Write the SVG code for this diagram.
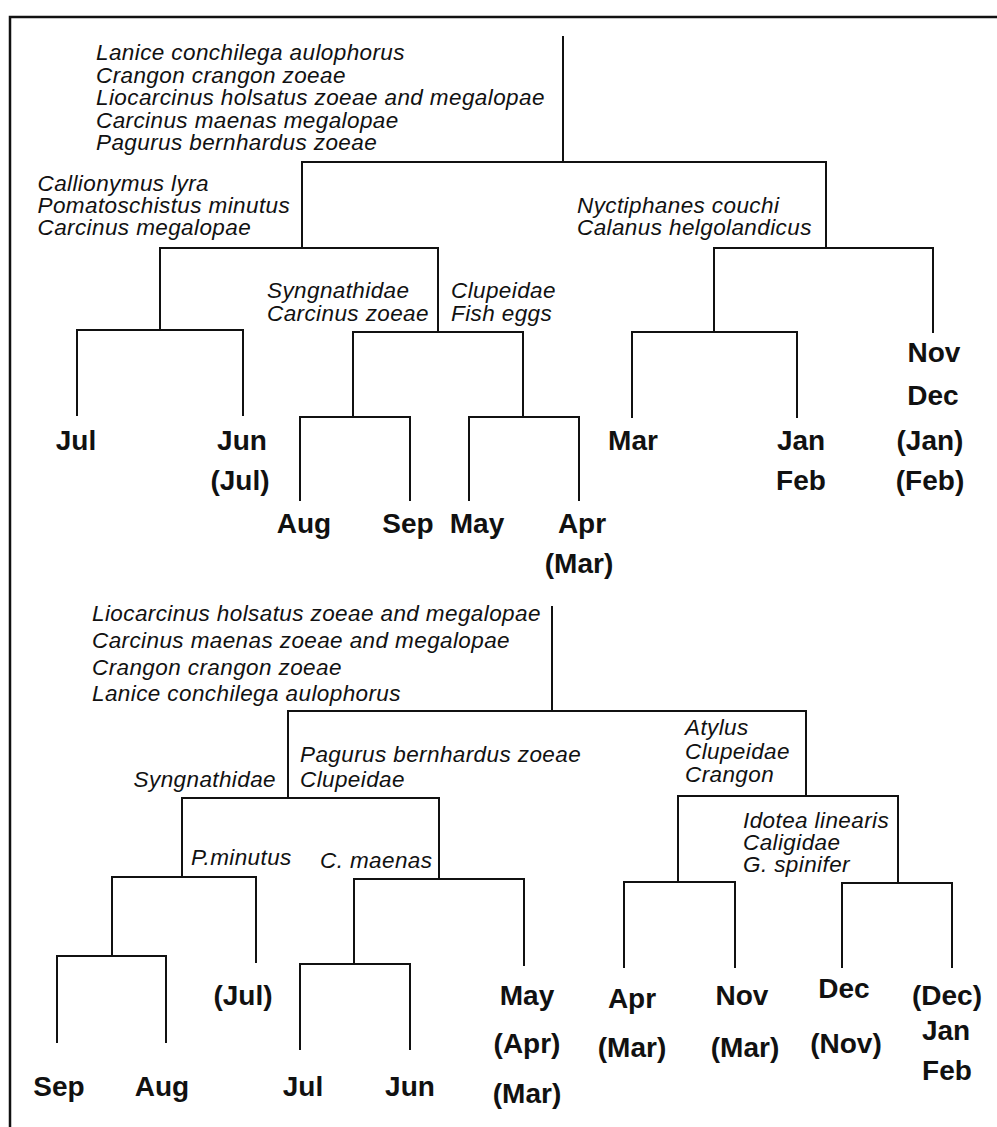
<svg xmlns="http://www.w3.org/2000/svg" width="997" height="1127" viewBox="0 0 997 1127">
  <style>
    .sp { font-family: "Liberation Sans", Arial, sans-serif; font-style: italic; font-size: 22.5px; letter-spacing: 0.4px; fill: #111; }
    .mo { font-family: "Liberation Sans", Arial, sans-serif; font-weight: bold; font-size: 28px; fill: #111; text-anchor: middle; }
    .ln { fill: none; stroke: #111; stroke-width: 2; stroke-linecap: square; }
    .frame { fill: none; stroke: #111; stroke-width: 2.5; }
  </style>
  <rect width="997" height="1127" fill="#fff"/>

  <!-- frame (top and left edges) -->
  <path class="frame" d="M10,1127 V17 H997"/>

  <!-- dendrogram links -->
  <g id="connectors" class="ln">
    <!-- upper tree -->
    <path d="M563,37 V162"/>
    <path d="M302,248 V162 H826 V248"/>
    <path d="M160,330 V248 H438 V332"/>
    <path d="M77,415 V330 H243 V415"/>
    <path d="M353,417 V332 H523 V417"/>
    <path d="M300,500 V417 H410 V500"/>
    <path d="M469,500 V417 H579 V500"/>
    <path d="M714,332 V248 H933 V332"/>
    <path d="M632,417 V332 H797 V417"/>
    <!-- lower tree -->
    <path d="M552,607 V711"/>
    <path d="M288,798 V711 H806 V796"/>
    <path d="M182,877 V798 H439 V879"/>
    <path d="M112,956 V877 H256 V962"/>
    <path d="M57,1042 V956 H166 V1042"/>
    <path d="M354,964 V879 H524 V965"/>
    <path d="M300,1049 V964 H410 V1049"/>
    <path d="M678,882 V796 H898 V883"/>
    <path d="M624,967 V882 H735 V967"/>
    <path d="M842,967 V883 H952 V967"/>
  </g>

  <!-- upper tree: species splits -->
  <g id="u-root-species">
    <text class="sp" x="96" y="60">Lanice conchilega aulophorus</text>
    <text class="sp" x="96" y="82.5">Crangon crangon zoeae</text>
    <text class="sp" x="96" y="105">Liocarcinus holsatus zoeae and megalopae</text>
    <text class="sp" x="96" y="127.5">Carcinus maenas megalopae</text>
    <text class="sp" x="96" y="150">Pagurus bernhardus zoeae</text>
  </g>
  <g id="u-left-species">
    <text class="sp" x="37.5" y="191">Callionymus lyra</text>
    <text class="sp" x="37.5" y="213">Pomatoschistus minutus</text>
    <text class="sp" x="37.5" y="235">Carcinus megalopae</text>
  </g>
  <g id="u-mid-species">
    <text class="sp" x="267" y="298">Syngnathidae</text>
    <text class="sp" x="267" y="321">Carcinus zoeae</text>
  </g>
  <g id="u-mid2-species">
    <text class="sp" x="451" y="298">Clupeidae</text>
    <text class="sp" x="451" y="321">Fish eggs</text>
  </g>
  <g id="u-right-species">
    <text class="sp" x="577" y="213">Nyctiphanes couchi</text>
    <text class="sp" x="577" y="235">Calanus helgolandicus</text>
  </g>

  <!-- upper tree: month leaves -->
  <g id="u-jul"><text class="mo" x="76" y="450">Jul</text></g>
  <g id="u-jun"><text class="mo" x="242" y="450">Jun</text><text class="mo" x="240" y="490">(Jul)</text></g>
  <g id="u-aug"><text class="mo" x="304" y="533">Aug</text></g>
  <g id="u-sep"><text class="mo" x="408" y="533">Sep</text></g>
  <g id="u-may"><text class="mo" x="477" y="533">May</text></g>
  <g id="u-apr"><text class="mo" x="582" y="533">Apr</text><text class="mo" x="579" y="573">(Mar)</text></g>
  <g id="u-mar"><text class="mo" x="633" y="450">Mar</text></g>
  <g id="u-janfeb"><text class="mo" x="801" y="450">Jan</text><text class="mo" x="801" y="490">Feb</text></g>
  <g id="u-novdec">
    <text class="mo" x="934" y="362">Nov</text>
    <text class="mo" x="933" y="405">Dec</text>
    <text class="mo" x="930" y="450">(Jan)</text>
    <text class="mo" x="930" y="490">(Feb)</text>
  </g>

  <!-- lower tree: species splits -->
  <g id="l-root-species">
    <text class="sp" x="92" y="621">Liocarcinus holsatus zoeae and megalopae</text>
    <text class="sp" x="92" y="648">Carcinus maenas zoeae and megalopae</text>
    <text class="sp" x="92" y="675">Crangon crangon zoeae</text>
    <text class="sp" x="92" y="701">Lanice conchilega aulophorus</text>
  </g>
  <g id="l-syng"><text class="sp" x="276" y="787" text-anchor="end">Syngnathidae</text></g>
  <g id="l-pagurus">
    <text class="sp" x="300" y="762">Pagurus bernhardus zoeae</text>
    <text class="sp" x="300" y="787">Clupeidae</text>
  </g>
  <g id="l-atylus">
    <text class="sp" x="685" y="735">Atylus</text>
    <text class="sp" x="685" y="759">Clupeidae</text>
    <text class="sp" x="685" y="782">Crangon</text>
  </g>
  <g id="l-idotea">
    <text class="sp" x="743" y="828">Idotea linearis</text>
    <text class="sp" x="743" y="850">Caligidae</text>
    <text class="sp" x="743" y="872">G. spinifer</text>
  </g>
  <g id="l-pminutus"><text class="sp" x="191" y="865">P.minutus</text></g>
  <g id="l-cmaenas"><text class="sp" x="320" y="868">C. maenas</text></g>

  <!-- lower tree: month leaves -->
  <g id="l-sep"><text class="mo" x="59" y="1096">Sep</text></g>
  <g id="l-aug"><text class="mo" x="162" y="1096">Aug</text></g>
  <g id="l-jul-p"><text class="mo" x="243" y="1005">(Jul)</text></g>
  <g id="l-jul"><text class="mo" x="303" y="1096">Jul</text></g>
  <g id="l-jun"><text class="mo" x="410" y="1096">Jun</text></g>
  <g id="l-may">
    <text class="mo" x="527" y="1005">May</text>
    <text class="mo" x="527" y="1053">(Apr)</text>
    <text class="mo" x="527" y="1103">(Mar)</text>
  </g>
  <g id="l-apr"><text class="mo" x="632" y="1008">Apr</text><text class="mo" x="632" y="1057">(Mar)</text></g>
  <g id="l-nov"><text class="mo" x="742" y="1005">Nov</text><text class="mo" x="745" y="1057">(Mar)</text></g>
  <g id="l-dec"><text class="mo" x="844" y="998">Dec</text><text class="mo" x="846" y="1053">(Nov)</text></g>
  <g id="l-decjanfeb">
    <text class="mo" x="947" y="1005">(Dec)</text>
    <text class="mo" x="946" y="1040">Jan</text>
    <text class="mo" x="947" y="1080">Feb</text>
  </g>
</svg>
